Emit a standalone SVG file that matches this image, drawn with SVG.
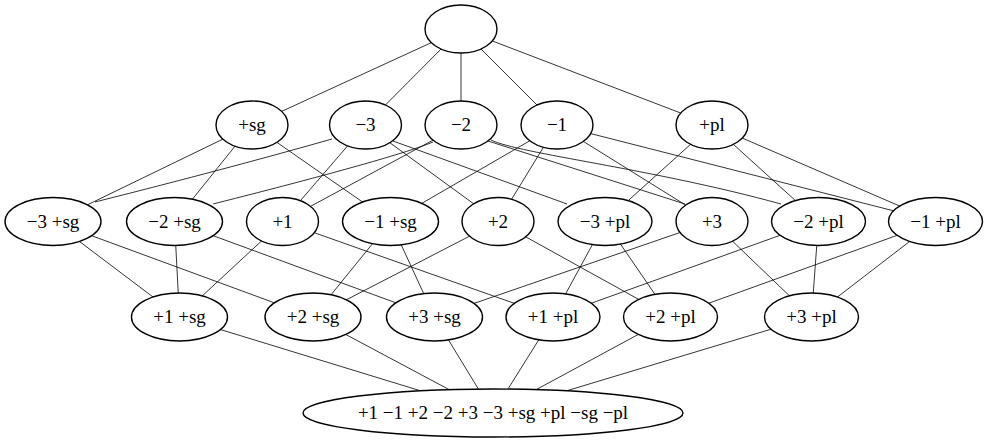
<svg xmlns="http://www.w3.org/2000/svg" width="988" height="443" viewBox="0 0 988 443">
<style>
.e line, .e path { stroke: #000; stroke-width: 0.8; fill: none; }
.n ellipse { fill: #fff; stroke: #000; stroke-width: 1.4; }
.n text { font-size: 19px; text-anchor: middle; fill: #000; }
</style>
<rect width="988" height="443" fill="#fff"/>
<g id="connectors" class="e">
<line x1="461" y1="29" x2="252" y2="125"/>
<line x1="461" y1="29" x2="365.5" y2="125"/>
<line x1="461" y1="29" x2="461" y2="125"/>
<line x1="461" y1="29" x2="557" y2="125"/>
<line x1="461" y1="29" x2="712" y2="125"/>
<line x1="252" y1="125" x2="53" y2="221.5"/>
<line x1="252" y1="125" x2="174.5" y2="221.5"/>
<line x1="252" y1="125" x2="390.5" y2="221.5"/>
<path d="M332,139 Q230,168 95,202"/>
<line x1="365.5" y1="125" x2="282.5" y2="221.5"/>
<line x1="365.5" y1="125" x2="498" y2="221.5"/>
<path d="M393,141 L567,204"/>
<path d="M433,142 Q395,158 213,204"/>
<line x1="461" y1="125" x2="282.5" y2="221.5"/>
<path d="M488,141 L685,204"/>
<path d="M491,140 C520,154 650,168 781,204"/>
<line x1="557" y1="125" x2="390.5" y2="221.5"/>
<line x1="557" y1="125" x2="498" y2="221.5"/>
<line x1="557" y1="125" x2="712" y2="221.5"/>
<line x1="557" y1="125" x2="935.5" y2="221.5"/>
<line x1="712" y1="125" x2="605" y2="221.5"/>
<line x1="712" y1="125" x2="818.5" y2="221.5"/>
<line x1="712" y1="125" x2="935.5" y2="221.5"/>
<line x1="53" y1="221.5" x2="179.5" y2="317"/>
<line x1="53" y1="221.5" x2="313" y2="317"/>
<line x1="174.5" y1="221.5" x2="179.5" y2="317"/>
<line x1="174.5" y1="221.5" x2="434.5" y2="317"/>
<line x1="282.5" y1="221.5" x2="179.5" y2="317"/>
<line x1="282.5" y1="221.5" x2="553" y2="317"/>
<line x1="390.5" y1="221.5" x2="313" y2="317"/>
<line x1="390.5" y1="221.5" x2="434.5" y2="317"/>
<line x1="498" y1="221.5" x2="313" y2="317"/>
<line x1="498" y1="221.5" x2="670.5" y2="317"/>
<line x1="605" y1="221.5" x2="553" y2="317"/>
<line x1="605" y1="221.5" x2="670.5" y2="317"/>
<line x1="712" y1="221.5" x2="434.5" y2="317"/>
<line x1="712" y1="221.5" x2="811.5" y2="317"/>
<line x1="818.5" y1="221.5" x2="553" y2="317"/>
<line x1="818.5" y1="221.5" x2="811.5" y2="317"/>
<line x1="935.5" y1="221.5" x2="670.5" y2="317"/>
<line x1="935.5" y1="221.5" x2="811.5" y2="317"/>
<line x1="179.5" y1="317" x2="493" y2="413"/>
<line x1="313" y1="317" x2="493" y2="413"/>
<line x1="434.5" y1="317" x2="493" y2="413"/>
<line x1="553" y1="317" x2="493" y2="413"/>
<line x1="670.5" y1="317" x2="493" y2="413"/>
<line x1="811.5" y1="317" x2="493" y2="413"/>
</g>
<g font-family="Liberation Serif, Times New Roman, DejaVu Serif, serif">
<g id="top" class="n"><ellipse cx="461" cy="29" rx="36" ry="24"/></g>
<g id="psg" class="n"><ellipse cx="252" cy="125" rx="36" ry="24"/><text x="252" y="131">+sg</text></g>
<g id="m3" class="n"><ellipse cx="365.5" cy="125" rx="36" ry="24"/><text x="365.5" y="131">−3</text></g>
<g id="m2" class="n"><ellipse cx="461" cy="125" rx="36" ry="24"/><text x="461" y="131">−2</text></g>
<g id="m1" class="n"><ellipse cx="557" cy="125" rx="36" ry="24"/><text x="557" y="131">−1</text></g>
<g id="ppl" class="n"><ellipse cx="712" cy="125" rx="36" ry="24"/><text x="712" y="131">+pl</text></g>
<g id="m3psg" class="n"><ellipse cx="53" cy="221.5" rx="48" ry="24"/><text x="53" y="227.5">−3 +sg</text></g>
<g id="m2psg" class="n"><ellipse cx="174.5" cy="221.5" rx="48" ry="24"/><text x="174.5" y="227.5">−2 +sg</text></g>
<g id="p1" class="n"><ellipse cx="282.5" cy="221.5" rx="36" ry="24"/><text x="282.5" y="227.5">+1</text></g>
<g id="m1psg" class="n"><ellipse cx="390.5" cy="221.5" rx="48" ry="24"/><text x="390.5" y="227.5">−1 +sg</text></g>
<g id="p2" class="n"><ellipse cx="498" cy="221.5" rx="36" ry="24"/><text x="498" y="227.5">+2</text></g>
<g id="m3ppl" class="n"><ellipse cx="605" cy="221.5" rx="47" ry="24"/><text x="605" y="227.5">−3 +pl</text></g>
<g id="p3" class="n"><ellipse cx="712" cy="221.5" rx="36" ry="24"/><text x="712" y="227.5">+3</text></g>
<g id="m2ppl" class="n"><ellipse cx="818.5" cy="221.5" rx="47" ry="24"/><text x="818.5" y="227.5">−2 +pl</text></g>
<g id="m1ppl" class="n"><ellipse cx="935.5" cy="221.5" rx="47" ry="24"/><text x="935.5" y="227.5">−1 +pl</text></g>
<g id="p1psg" class="n"><ellipse cx="179.5" cy="317" rx="48" ry="24"/><text x="179.5" y="323">+1 +sg</text></g>
<g id="p2psg" class="n"><ellipse cx="313" cy="317" rx="48" ry="24"/><text x="313" y="323">+2 +sg</text></g>
<g id="p3psg" class="n"><ellipse cx="434.5" cy="317" rx="48" ry="24"/><text x="434.5" y="323">+3 +sg</text></g>
<g id="p1ppl" class="n"><ellipse cx="553" cy="317" rx="47" ry="24"/><text x="553" y="323">+1 +pl</text></g>
<g id="p2ppl" class="n"><ellipse cx="670.5" cy="317" rx="47" ry="24"/><text x="670.5" y="323">+2 +pl</text></g>
<g id="p3ppl" class="n"><ellipse cx="811.5" cy="317" rx="47" ry="24"/><text x="811.5" y="323">+3 +pl</text></g>
<g id="bottom" class="n"><ellipse cx="493" cy="413" rx="190" ry="24"/><text x="493" y="419">+1 −1 +2 −2 +3 −3 +sg +pl −sg −pl</text></g>
</g>
</svg>
